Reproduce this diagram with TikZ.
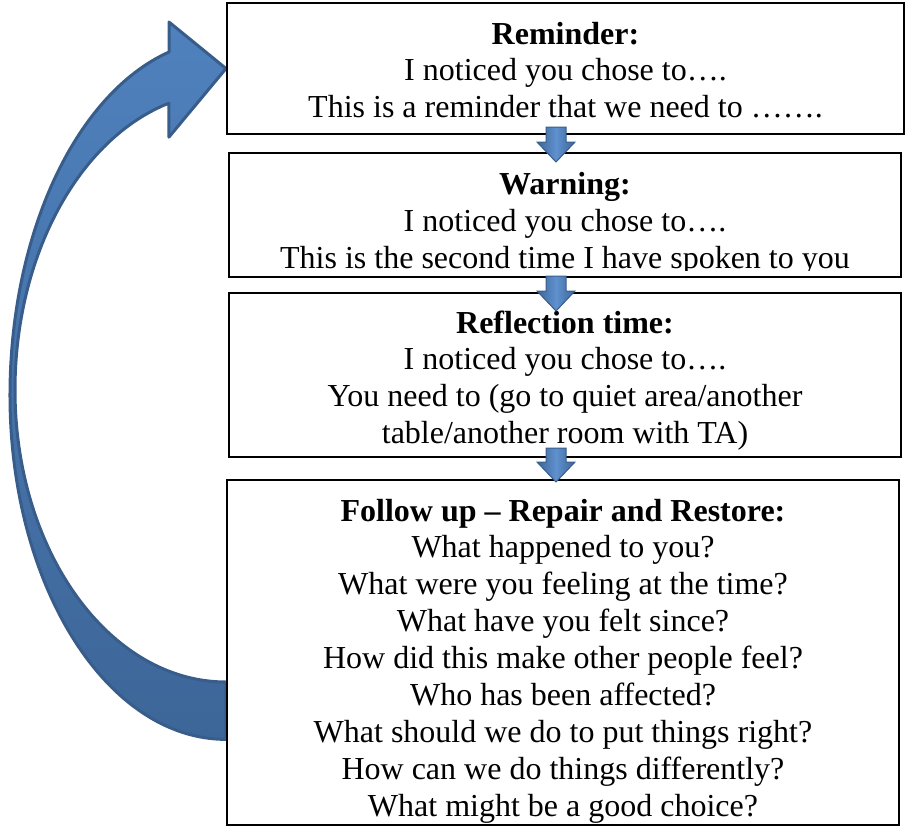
\documentclass[tikz,border=0pt]{standalone}
\usepackage{fontspec}
\setmainfont{Liberation Serif}
\usetikzlibrary{calc,backgrounds}

\definecolor{arrowfill}{RGB}{79,129,189}
\definecolor{arrowline}{RGB}{56,93,138}
\definecolor{arrowdark}{RGB}{61,102,152}
\definecolor{arrowlight}{RGB}{94,145,206}

\tikzset{
    box/.style={draw=black, line width=1pt, inner sep=0pt},
    head/.style={anchor=base, inner sep=0pt, font=\fontsize{16}{18.45}\selectfont\bfseries},
    body/.style={anchor=base, inner sep=0pt, font=\fontsize{16}{18.45}\selectfont},
    bigarrow/.style={draw=arrowline, line width=1.5pt, line join=round, top color=arrowfill, bottom color=arrowdark},
    smallarrow/.style={draw=arrowline, line width=0.5pt, left color=arrowdark, right color=arrowdark, middle color=arrowlight}
}

% block arrow pointing down, from #1 (top of shaft) to #2 (tip)
\newcommand{\downblock}[2]{%
    \path[smallarrow] ($(#1)+(-5pt,0)$) -- ($(#2)+(-5pt,10pt)$) -- ($(#2)+(-9.5pt,10pt)$) -- (#2)
        -- ($(#2)+(9.5pt,10pt)$) -- ($(#2)+(5pt,10pt)$) -- ($(#1)+(5pt,0)$) -- cycle;
}

\begin{document}
\begin{tikzpicture}[x=0.5pt, y=-0.5pt]
    \useasboundingbox (0,0) rectangle (907,827);

    % the four boxes
    \node[box, minimum width=338.5pt, minimum height=65.5pt] (remind) at (565.5,68.5) {};
    \node[box, minimum width=336pt, minimum height=62pt] (warn) at (565,215) {};
    \node[box, minimum width=336pt, minimum height=82pt] (reflect) at (565,375) {};
    \node[box, minimum width=336pt, minimum height=172.5pt] (follow) at (563,652.5) {};

    % texts
    \begin{scope}
        \clip (remind.south west) rectangle (remind.north east);
        \node[head] (remindhead) at (565.5,44) {Reminder:};
        \foreach \txt [count=\i] in {
            {I noticed you chose to….},
            {This is a reminder that we need to …….}
        } {
            \node[body] (remind\i) at (565.5,44+36.9*\i) {\txt};
        }
    \end{scope}

    \begin{scope}
        \clip ([yshift=4pt]warn.south west) rectangle (warn.north east);
        \node[head] (warnhead) at (565,194) {Warning:};
        \foreach \txt [count=\i] in {
            {I noticed you chose to….},
            {This is the second time I have spoken to you}
        } {
            \node[body] (warn\i) at (565,194+37*\i) {\txt};
        }
    \end{scope}

    \begin{scope}
        \clip (reflect.south west) rectangle (reflect.north east);
        \node[head] (reflecthead) at (565,333) {Reflection time:};
        \foreach \txt [count=\i] in {
            {I noticed you chose to….},
            {You need to (go to quiet area/another},
            {table/another room with TA)}
        } {
            \node[body] (reflect\i) at (565,333+36.7*\i) {\txt};
        }
    \end{scope}

    \begin{scope}
        \clip ([yshift=2pt]follow.south west) rectangle (follow.north east);
        \node[head] (followhead) at (563,521) {Follow up – Repair and Restore:};
        \foreach \txt [count=\i] in {
            {What happened to you?},
            {What were you feeling at the time?},
            {What have you felt since?},
            {How did this make other people feel?},
            {Who has been affected?},
            {What should we do to put things right?},
            {How can we do things differently?},
            {What might be a good choice?}
        } {
            \node[body] (follow\i) at (563,521+36.9*\i) {\txt};
        }
    \end{scope}

    % small arrows between the boxes
    \coordinate (a1) at ([xshift=-4.75pt,yshift=4pt]remind.south);
    \coordinate (b1) at ([xshift=-4.5pt,yshift=-5pt]warn.north);
    \coordinate (a2) at ([xshift=-4.5pt,yshift=1pt]warn.south);
    \coordinate (b2) at ([xshift=-4.5pt,yshift=-9.5pt]reflect.north);
    \coordinate (a3) at ([xshift=-4.5pt,yshift=5pt]reflect.south);
    \coordinate (b3) at ([xshift=-3.5pt,yshift=-1.5pt]follow.north);
    \downblock{a1}{b1}
    \downblock{a2}{b2}
    \downblock{a3}{b3}

    % big curved arrow back to the top
    \begin{scope}[on background layer]
        \path[bigarrow] ([yshift=-14.75pt]follow.west)
            arc[start angle=90, end angle=180, x radius=211, y radius=292]
            arc[start angle=180, end angle=254.3, x radius=211, y radius=298]
            -- ++(0,34) -- (remind.west) -- ++(-57,-46.5) -- ++(0,30)
            arc[start angle=254.7, end angle=180, x radius=216, y radius=356]
            arc[start angle=180, end angle=90, x radius=216, y radius=344]
            -- cycle;
    \end{scope}
\end{tikzpicture}
\end{document}
